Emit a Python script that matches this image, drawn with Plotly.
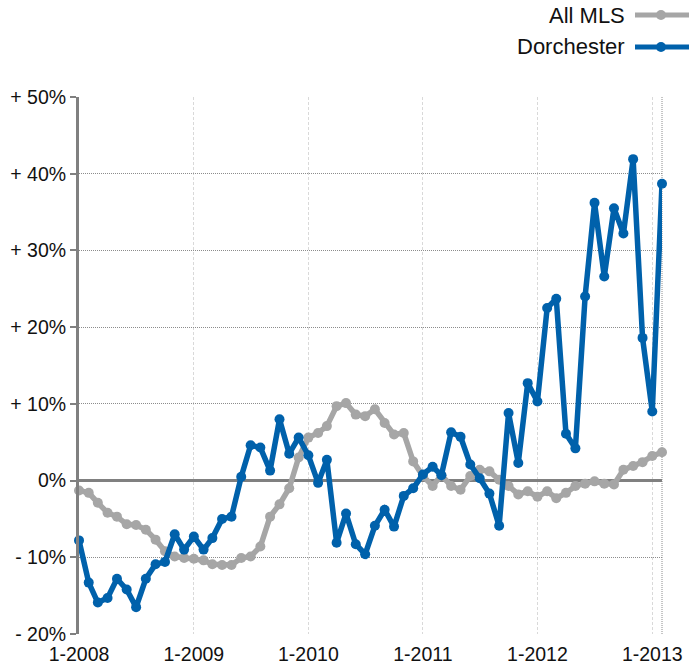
import plotly.graph_objects as go
import pandas as pd

months = pd.date_range("2008-01-01", "2013-02-01", freq="MS")

all_mls = [-1.3, -1.6, -2.9, -4.2, -4.7, -5.7, -5.8, -6.4, -7.7, -9.2,
           -9.9, -10.1, -10.2, -10.4, -10.9, -11.0, -11.0, -10.1, -9.9, -8.6,
           -4.7, -3.1, -1.0, 3.0, 5.6, 6.2, 7.1, 9.7, 10.1, 8.6,
           8.4, 9.3, 7.5, 6.0, 6.2, 2.5, 0.6, -0.7, 0.7, -0.7,
           -1.2, 0.6, 1.4, 1.2, 0.1, -0.7, -1.8, -1.4, -2.1, -1.4,
           -2.3, -1.6, -0.7, -0.4, -0.1, -0.4, -0.5, 1.4, 1.9, 2.4,
           3.2, 3.7]

dorchester = [-7.8, -13.3, -15.9, -15.3, -12.8, -14.2, -16.5, -12.8, -10.9, -10.6,
              -7.0, -9.0, -7.3, -9.0, -7.5, -5.0, -4.7, 0.5, 4.6, 4.3,
              1.3, 8.0, 3.5, 5.6, 3.3, -0.3, 2.7, -8.1, -4.3, -8.3,
              -9.6, -5.9, -3.8, -6.0, -2.0, -1.0, 0.8, 1.8, 0.7, 6.3,
              5.7, 2.1, 0.3, -1.7, -5.9, 8.8, 2.3, 12.7, 10.3, 22.5,
              23.7, 6.1, 4.2, 24.0, 36.2, 26.6, 35.5, 32.2, 41.9, 18.6,
              9.0, 38.7]

year_ticks = pd.to_datetime(["2008-01-01", "2009-01-01", "2010-01-01",
                             "2011-01-01", "2012-01-01", "2013-01-01"])
year_labels = ["1-2008", "1-2009", "1-2010", "1-2011", "1-2012", "1-2013"]
y_ticks = [-20, -10, 0, 10, 20, 30, 40, 50]
y_labels = ["- 20%", "- 10%", "0%", "+ 10%", "+ 20%", "+ 30%", "+ 40%", "+ 50%"]

GRAY = "#a6a6a6"
BLUE = "#0061ab"
FONT = "Liberation Sans, Arial, sans-serif"

fig = go.Figure()
fig.add_trace(go.Scatter(x=months, y=all_mls, mode="lines+markers", name="All MLS",
                         line=dict(color=GRAY, width=5.5), marker=dict(color=GRAY, size=10),
                         cliponaxis=False))
fig.add_trace(go.Scatter(x=months, y=dorchester, mode="lines+markers", name="Dorchester",
                         line=dict(color=BLUE, width=5.5), marker=dict(color=BLUE, size=10),
                         cliponaxis=False))

fig.update_xaxes(range=[months[0], months[-1]], tickvals=year_ticks, ticktext=year_labels,
                 showgrid=True, gridcolor="#d9d9d9", griddash="3px,2px", gridwidth=1,
                 showline=False, zeroline=False, ticks="", ticklabelstandoff=6,
                 automargin=False,
                 tickfont=dict(size=19.5, color="#111", family=FONT))
fig.update_yaxes(range=[-20, 50], tickvals=y_ticks, ticktext=y_labels,
                 showgrid=True, gridcolor="#8c8c8c", griddash="1px,1px", gridwidth=1,
                 showline=True, linecolor="#808080", linewidth=3,
                 zeroline=True, zerolinecolor="#808080", zerolinewidth=3,
                 ticks="outside", ticklen=6, tickcolor="#808080", tickwidth=2,
                 automargin=False,
                 tickfont=dict(size=19.5, color="#111", family=FONT))

# right border dotted
fig.add_shape(type="line", xref="paper", yref="paper", x0=1, x1=1, y0=0, y1=1,
              line=dict(color="#8c8c8c", width=1, dash="1px,1px"), layer="below")

# custom legend (text on the left of symbol)
legend_items = [("All MLS", GRAY, 15), ("Dorchester", BLUE, 47)]
for name, col, ypix in legend_items:
    yp = 1 + (97 - ypix) / (634 - 97)
    fig.add_shape(type="line", xref="paper", yref="paper",
                  x0=(635 - 79) / (662 - 79), x1=(689 - 79) / (662 - 79), y0=yp, y1=yp,
                  line=dict(color=col, width=5))
    cx = (661 - 79) / (662 - 79)
    fig.add_shape(type="circle", xref="paper", yref="paper",
                  x0=cx - 5 / 583, x1=cx + 5 / 583, y0=yp - 5 / 537, y1=yp + 5 / 537,
                  fillcolor=col, line=dict(color=col, width=0))
    fig.add_annotation(xref="paper", yref="paper", x=(627 - 79) / (662 - 79), y=yp,
                       xanchor="right", yanchor="middle", text=name, showarrow=False,
                       font=dict(size=22, color="#111", family=FONT))

fig.update_layout(width=689, height=668, showlegend=False,
                  margin=dict(l=79, r=27, t=97, b=34),
                  plot_bgcolor="white", paper_bgcolor="white",
                  font=dict(family=FONT))

fig.write_html("out.html", config={"displayModeBar": False},
               post_script="document.body.style.margin='0';document.body.style.overflow='hidden';")
